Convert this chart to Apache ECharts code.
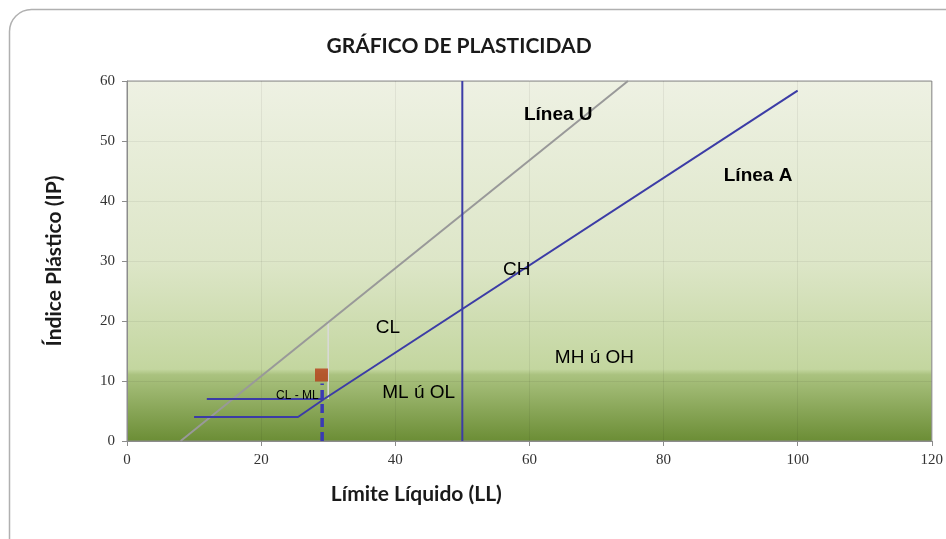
<!DOCTYPE html>
<html>
<head>
<meta charset="utf-8">
<script src="https://cdn.jsdelivr.net/npm/echarts@6/dist/echarts.min.js"></script>
<style>
  html, body { margin: 0; padding: 0; background: #fff; }
  #chart { width: 946px; height: 539px; }
</style>
</head>
<body>
<div id="chart"></div>
<script>
// ejes
const xTicks = [0, 20, 40, 60, 80, 100, 120];
const yTicks = [0, 10, 20, 30, 40, 50, 60];

// lineas de la carta de plasticidad [LL, IP]
const lineaU = [[8, 0], [74.7, 60]];
const lineaA = [[29.4, 7], [100, 58.4]];
const tramo7 = [[11.9, 7], [29.4, 7]];
const tramo4 = [[10, 4], [25.5, 4], [29.4, 7]];
const limite50 = [[50, 0], [50, 60]];
const limite30 = [[30, 7], [30, 20]];
const muestra = [[29, 11]];
const muestraBajada = [[29.1, 0], [29.1, 9.6]];

// rotulos de zonas
const rotulosNombre = ['Línea U', 'Línea A', 'CH', 'CL', 'MH ú OH', 'ML ú OL', 'CL - ML'];
const rotulosPos = [[64.3, 54.3], [94.1, 44.2], [58.1, 28.5], [38.9, 18.8], [69.7, 13.8], [43.5, 8], [25.4, 7.5]];
const rotulosNegrita = [true, true, false, false, false, false, false];
const rotulosTam = [19, 19, 19, 19, 19, 19, 12];

const chart = echarts.init(document.getElementById('chart'));

const azul = '#3c3ca6';

function linea(data, color, width, type, z) {
  return {
    type: 'line', data: data, symbol: 'none', silent: true, z: z || 3,
    lineStyle: { color: color, width: width, type: type || 'solid' }
  };
}

chart.setOption({
  animation: false,
  title: {
    text: 'GRÁFICO DE PLASTICIDAD',
    left: 454, top: 31, textAlign: 'center',
    textStyle: { fontFamily: 'Lato', fontWeight: 'bold', fontSize: 21, color: '#1a1a1a' }
  },
  graphic: [{
    type: 'rect', left: 7, top: 7, silent: true,
    shape: { width: 980, height: 580, r: 22 },
    style: { fill: 'none', stroke: '#b0b0b0', lineWidth: 1.5 }
  }],
  grid: {
    left: 127, right: 13, top: 81, bottom: 98,
    show: true, borderColor: '#8c8c8c', borderWidth: 1,
    backgroundColor: {
      type: 'linear', x: 0, y: 0, x2: 0, y2: 1,
      colorStops: [
        { offset: 0, color: '#eef1e3' },
        { offset: 0.5, color: '#dde6c8' },
        { offset: 0.8, color: '#c3d69f' },
        { offset: 0.815, color: '#aac27f' },
        { offset: 1, color: '#6b8d35' }
      ]
    }
  },
  xAxis: {
    type: 'value', min: 0, max: 120, interval: 20,
    name: 'Límite Líquido (LL)', nameLocation: 'middle', nameGap: 43,
    nameTextStyle: { fontFamily: 'Lato', fontWeight: 'bold', fontSize: 21, color: '#1a1a1a',
      padding: [0, 226, 0, 0] },
    axisLine: { show: true, lineStyle: { color: '#8c8c8c' } },
    axisTick: { show: true, length: 5, lineStyle: { color: '#8c8c8c' } },
    axisLabel: { fontFamily: 'Liberation Serif', fontSize: 15, color: '#333', margin: 12,
      formatter: v => xTicks.includes(v) ? String(v) : '' },
    splitLine: { show: true, lineStyle: { color: 'rgba(0,0,0,0.06)' } }
  },
  yAxis: {
    type: 'value', min: 0, max: 60, interval: 10,
    name: 'Índice Plástico (IP)', nameLocation: 'middle', nameGap: 62,
    nameTextStyle: { fontFamily: 'Lato', fontWeight: 'bold', fontSize: 21, color: '#1a1a1a' },
    axisLine: { show: true, lineStyle: { color: '#8c8c8c' } },
    axisTick: { show: true, length: 5, lineStyle: { color: '#8c8c8c' } },
    axisLabel: { fontFamily: 'Liberation Serif', fontSize: 15, color: '#333', margin: 12,
      formatter: v => yTicks.includes(v) ? String(v) : '' },
    splitLine: { show: true, lineStyle: { color: 'rgba(0,0,0,0.06)' } }
  },
  series: [
    linea(limite30, '#d9d9d9', 1.5, 'solid', 2),
    linea(lineaU, '#999999', 2, 'solid', 3),
    linea(limite50, azul, 2),
    linea(lineaA, azul, 2),
    linea(tramo7, azul, 2),
    linea(tramo4, azul, 2),
    linea(muestraBajada, '#3a3ab4', 3.5, [9, 5], 4),
    {
      type: 'scatter', data: muestra, symbol: 'rect', symbolSize: 13, z: 5,
      itemStyle: { color: '#b53c17' }
    },
    {
      type: 'scatter', symbolSize: 1, z: 6, silent: true,
      itemStyle: { color: 'rgba(0,0,0,0)', opacity: 1 },
      data: rotulosPos.map((p, i) => ({
        value: p,
        label: {
          show: true, position: 'inside', formatter: rotulosNombre[i],
          fontFamily: 'Liberation Sans', color: '#000', textBorderWidth: 0, opacity: 1,
          fontSize: rotulosTam[i], fontWeight: rotulosNegrita[i] ? 'bold' : 'normal'
        }
      }))
    }
  ]
});
</script>
</body>
</html>
